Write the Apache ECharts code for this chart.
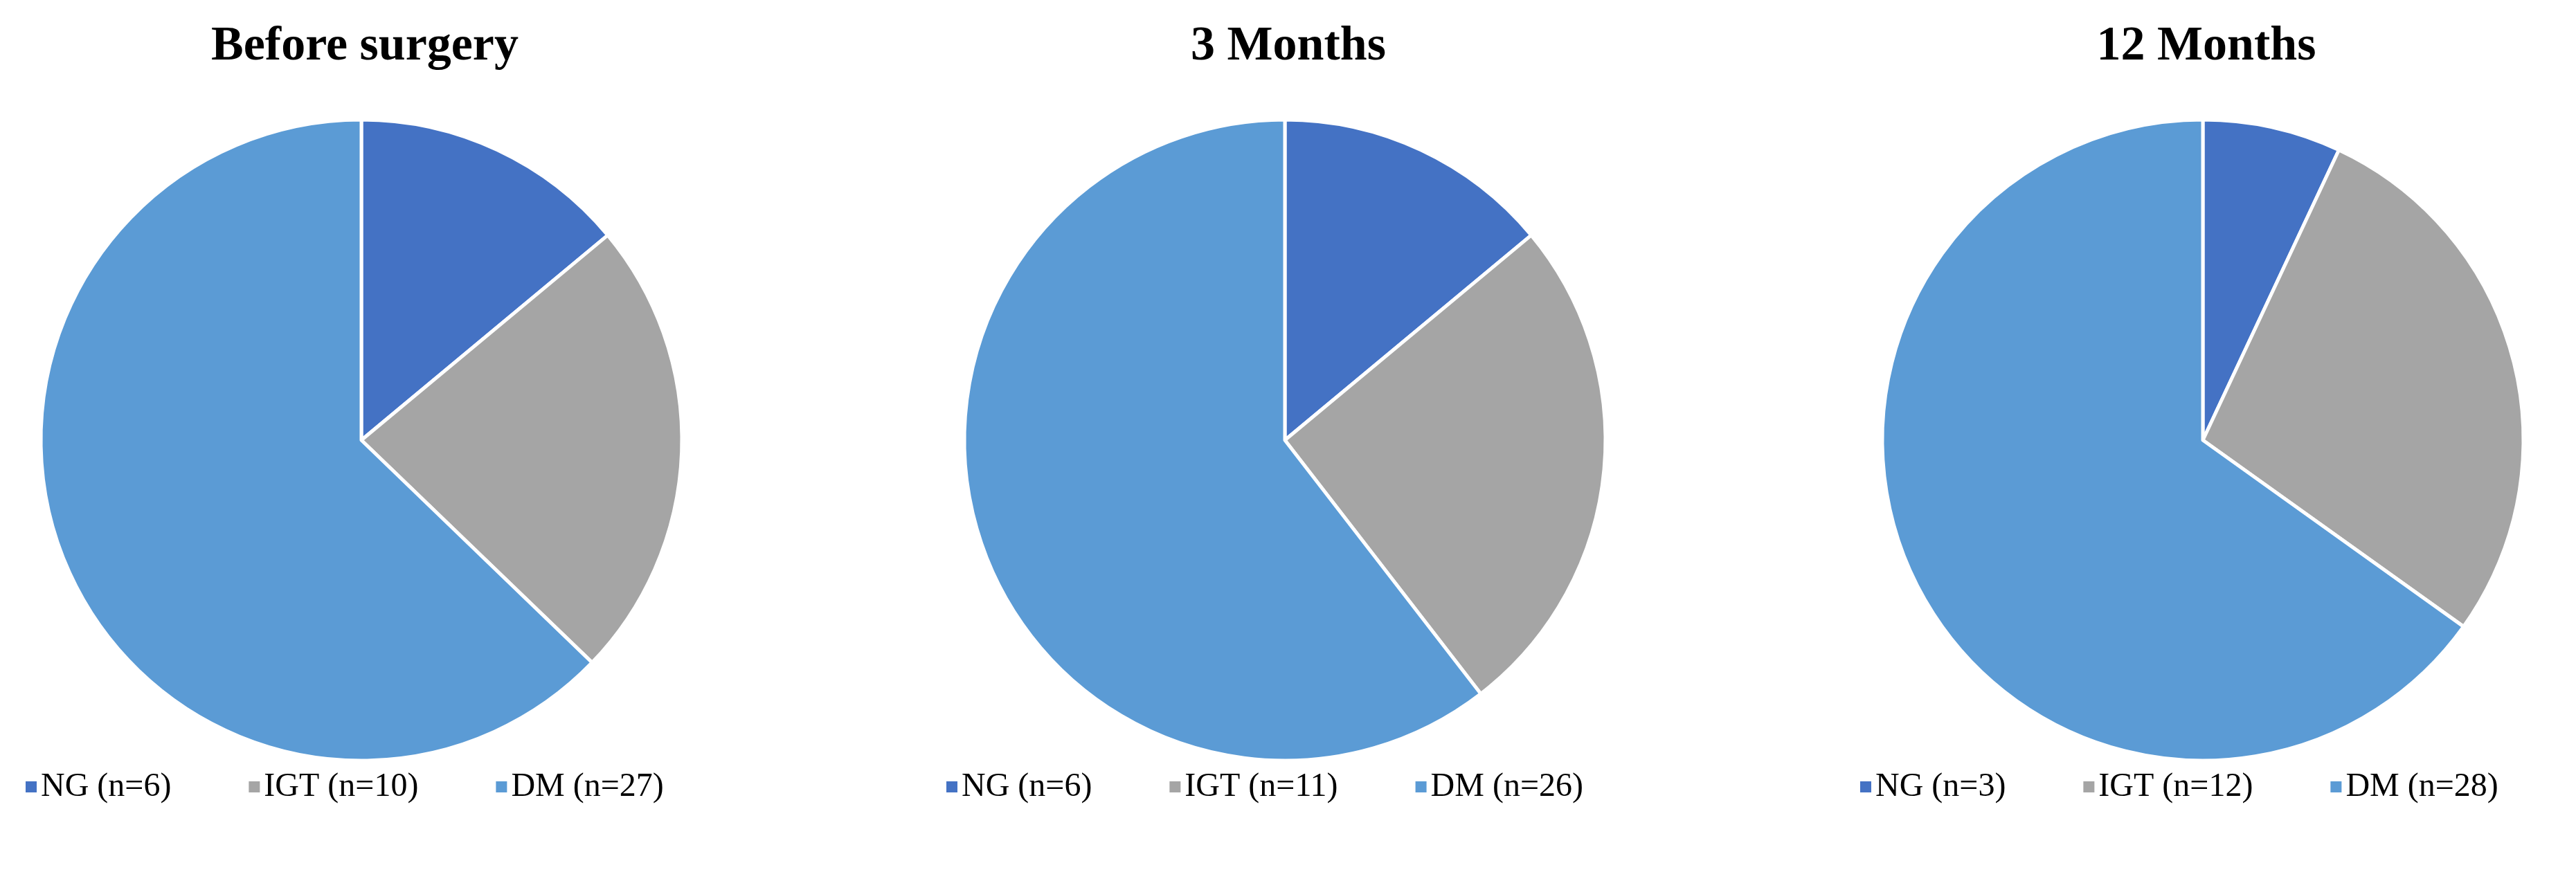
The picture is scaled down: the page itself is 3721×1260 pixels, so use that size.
<!DOCTYPE html>
<html>
<head>
<meta charset="utf-8">
<script src="https://cdn.jsdelivr.net/npm/echarts@6/dist/echarts.min.js"></script>
<style>html,body{margin:0;background:#fff}#c{width:3721px;height:1260px}</style>
</head>
<body>
<div id="c"></div>
<script>
// panel titles and group counts
const titles = ['Before surgery', '3 Months', '12 Months'];
const groups = ['NG', 'IGT', 'DM'];
const counts = [
  [6, 10, 27],
  [6, 11, 26],
  [3, 12, 28]
];
const colors = ['#4472C4', '#A5A5A5', '#5B9BD5'];

const centersX = [522, 1856, 3182];
const legendLeft = [30, 1360, 2680];

const chart = echarts.init(document.getElementById('c'));
const font = '"Liberation Serif", "Times New Roman", serif';

const series = counts.map((vals, i) => ({
  type: 'pie',
  center: [centersX[i], 636],
  radius: 463,
  startAngle: 90,
  clockwise: true,
  label: { show: false },
  labelLine: { show: false },
  emphasis: { disabled: true },
  itemStyle: { borderColor: '#fff', borderWidth: 5 },
  data: vals.map((v, j) => ({
    name: groups[j] + ' (n=' + v + ')' + '\u200b'.repeat(i),
    value: v,
    itemStyle: { color: colors[j] }
  }))
}));

const option = {
  backgroundColor: '#fff',
  animation: false,
  title: titles.map((t, i) => ({
    text: t,
    left: centersX[i],
    top: 28,
    textAlign: 'center',
    textStyle: { fontFamily: font, fontWeight: 'bold', fontSize: 70, color: '#000' }
  })),
  legend: series.map((s, i) => ({
    data: s.data.map(d => d.name),
    left: legendLeft[i],
    top: 1108,
    icon: 'rect',
    itemWidth: 18,
    itemHeight: 18,
    itemGap: 110,
    textStyle: { fontFamily: font, fontSize: 48, color: '#000' }
  })),
  series: series
};
chart.setOption(option);
</script>
</body>
</html>
